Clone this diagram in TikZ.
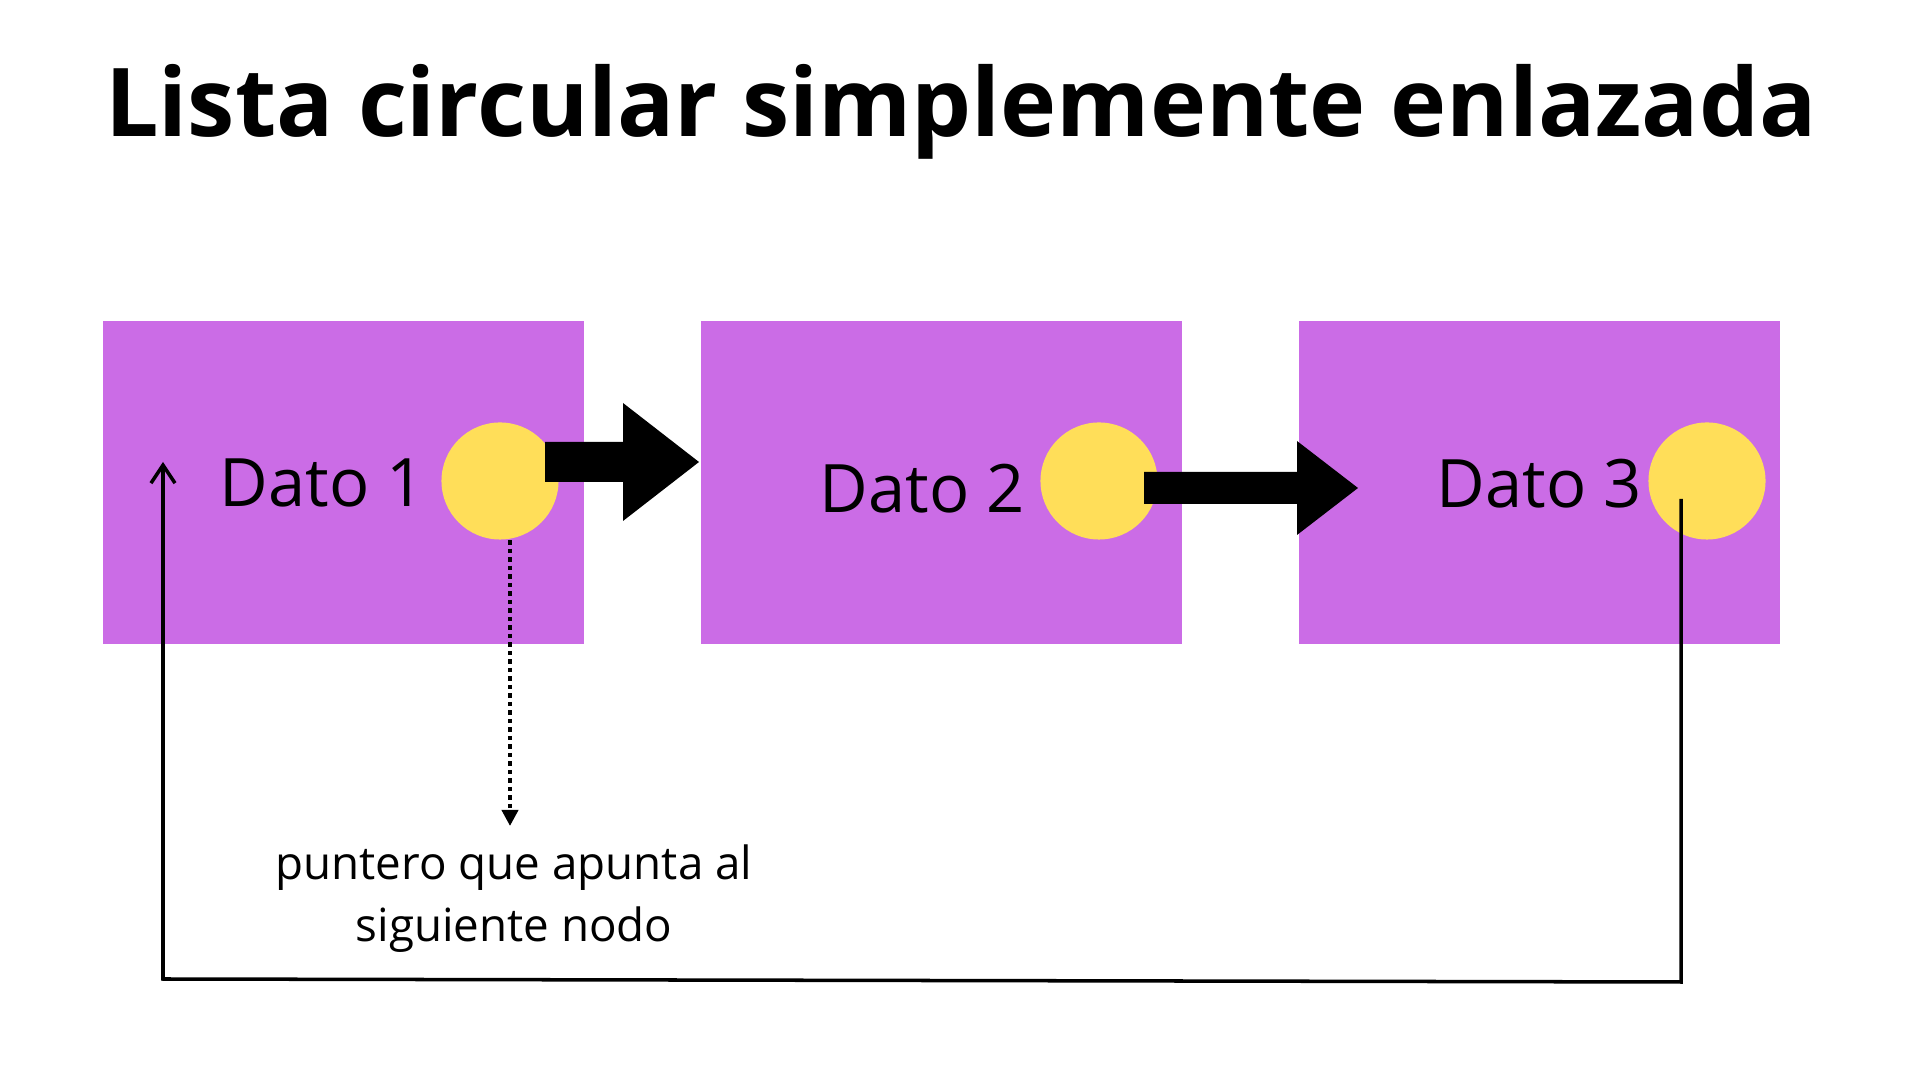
\documentclass[tikz,border=0pt]{standalone}
\usepackage{fontspec}
\setmainfont{Open Sans}
\usetikzlibrary{arrows.meta,calc}
\definecolor{boxpurple}{HTML}{CB6CE6}
\definecolor{dotyellow}{HTML}{FFDE59}
\begin{document}
\begin{tikzpicture}[x=0.01cm,y=-0.01cm,
  databox/.style={fill=boxpurple,draw=none,minimum width=4.81cm,minimum height=3.23cm,inner sep=0,anchor=north west},
  ptrdot/.style={circle,fill=dotyellow,draw=none,minimum size=1.17cm,inner sep=0},
  datalabel/.style={font=\fontsize{19}{23}\selectfont,anchor=base west,inner sep=0},
  blockarrow/.style={fill=black,draw=none},
  retline/.style={line width=1pt,-{Straight Barb[length=1.8mm,width=2.4mm,line width=1pt]}},
  ptrline/.style={line width=1.1pt,dash pattern=on 0.45mm off 0.4mm,-{Triangle[length=1.6mm,width=1.6mm]}}
]
\useasboundingbox[fill=white] (0,0) rectangle (1920,1080);
% title
\node[font=\bfseries\fontsize{27}{32}\selectfont,anchor=base,inner sep=0] (title) at (961,137) {Lista circular simplemente enlazada};
% boxes
\node[databox] (b1) at (102,320) {};
\node[databox] (b2) at (700,320) {};
\node[databox] (b3) at (1298,320) {};
% circles
\node[ptrdot] (c1) at (500,481) {};
\node[ptrdot] (c2) at (1099,481) {};
\node[ptrdot] (c3) at (1707,481) {};
% labels
\node[datalabel] (d1) at (219,507) {Dato 1};
\node[datalabel] (d2) at (819,513) {Dato 2};
\node[datalabel] (d3) at (1436,508) {Dato 3};
% block arrows
\coordinate (a1s) at (545,462);
\coordinate (a1t) at (699,462);
\fill[blockarrow] (545,442) -- (623,442) -- (623,403) -- (a1t) -- (623,521) -- (623,482) -- (545,482) -- cycle;
\coordinate (a2s) at (1144,488);
\coordinate (a2t) at (1358,488);
\fill[blockarrow] (1144,472) -- (1297,472) -- (1297,441) -- (a2t) -- (1297,535) -- (1297,504) -- (1144,504) -- cycle;
% dotted pointer
\coordinate (ptrend) at (510,826);
\draw[ptrline] (c1.south -| ptrend) -- (ptrend);
\node[font=\fontsize{13}{17.9}\selectfont,align=center,anchor=base,inner sep=0] (cap) at (514,942) {puntero que apunta al\\ siguiente nodo};
% return line
\coordinate (r3) at (1681,499);
\coordinate (r3b) at (1681,982);
\coordinate (r1b) at (163,979);
\coordinate (r1t) at (163,462);
\draw[retline] (r3) -- (r3b) -- (r1b) -- (r1t);
\end{tikzpicture}
\end{document}
